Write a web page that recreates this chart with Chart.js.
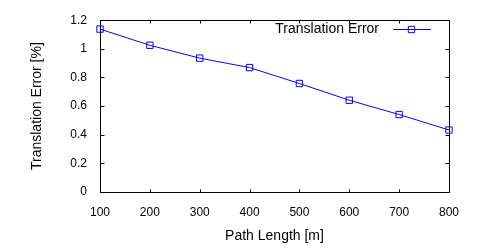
<!DOCTYPE html>
<html><head><meta charset="utf-8">
<script src="https://cdn.jsdelivr.net/npm/chart.js@4/dist/chart.umd.min.js"></script>
<style>html,body{margin:0;padding:0;background:#fff}#w{width:500px;height:250px}</style>
</head><body><div id="w"><canvas id="c" width="500" height="250"></canvas></div>
<script>
const pathLengths = [100, 200, 300, 400, 500, 600, 700, 800];
const translationError = [1.138, 1.025, 0.935, 0.869, 0.758, 0.641, 0.541, 0.433];
const xTicks = [100, 200, 300, 400, 500, 600, 700, 800];
const yTicks = [0, 0.2, 0.4, 0.6, 0.8, 1, 1.2];
const seriesLabel = 'Translation Error';
const xTitle = 'Path Length [m]';
const yTitle = 'Translation Error [%]';

const FONT = "'Liberation Sans', Arial, Helvetica, sans-serif";
const BLUE = '#0000ff';

const framePlugin = {
  id: 'frame',
  afterDatasetsDraw(chart) {
    const {ctx, chartArea: a, scales} = chart;
    const L = Math.round(a.left) + 0.5, R = Math.round(a.right) + 0.5;
    const T = Math.round(a.top) + 0.5, B = Math.round(a.bottom) + 0.5;
    ctx.save();
    ctx.strokeStyle = '#000';
    ctx.lineWidth = 1;
    ctx.beginPath();
    ctx.rect(L, T, R - L, B - T);
    xTicks.forEach(v => {
      const x = Math.round(scales.x.getPixelForValue(v)) + 0.5;
      ctx.moveTo(x, B); ctx.lineTo(x, B - 3);
      ctx.moveTo(x, T); ctx.lineTo(x, T + 3);
    });
    yTicks.forEach(v => {
      const y = Math.round(scales.y.getPixelForValue(v)) + 0.5;
      ctx.moveTo(L, y); ctx.lineTo(L + 4, y);
      ctx.moveTo(R, y); ctx.lineTo(R - 4, y);
    });
    ctx.stroke();
    // legend
    const ly = 29.5;
    ctx.font = '14px ' + FONT;
    ctx.fillStyle = '#000';
    ctx.textAlign = 'right';
    ctx.textBaseline = 'middle';
    ctx.fillText(chart.data.datasets[0].label, 379, ly);
    ctx.strokeStyle = BLUE;
    ctx.beginPath();
    ctx.moveTo(393, ly); ctx.lineTo(431, ly);
    ctx.stroke();
    ctx.fillStyle = 'rgba(0,0,0,0)';
    Chart.helpers.drawPoint(ctx, {pointStyle: 'rect', radius: 4.5, borderWidth: 1}, 411.5, ly);
    ctx.restore();
  }
};

new Chart(document.getElementById('c'), {
  type: 'line',
  data: {
    datasets: [{
      label: seriesLabel,
      data: pathLengths.map((x, i) => ({x, y: translationError[i]})),
      borderColor: BLUE,
      borderWidth: 1,
      pointStyle: 'rect',
      pointRadius: 4.5,
      pointBorderWidth: 1,
      pointBorderColor: BLUE,
      pointBackgroundColor: 'rgba(0,0,0,0)',
      tension: 0,
      fill: false,
      clip: false
    }]
  },
  options: {
    responsive: false,
    devicePixelRatio: 1,
    animation: false,
    layout: {padding: {top: 18, right: 51, left: 0, bottom: 0}},
    plugins: {legend: {display: false}, tooltip: {enabled: false}},
    scales: {
      x: {
        type: 'linear', min: 100, max: 800,
        afterBuildTicks: s => { s.ticks = xTicks.map(v => ({value: v})); },
        afterFit: s => { s.height = 58; },
        grid: {display: false, drawTicks: false},
        border: {display: false},
        ticks: {color: '#000', font: {family: FONT, size: 12}, padding: 13, maxRotation: 0, autoSkip: false},
        title: {display: true, text: xTitle, color: '#000', font: {family: FONT, size: 14}, padding: {top: 0, bottom: 5}}
      },
      y: {
        type: 'linear', min: 0, max: 1.2,
        afterBuildTicks: s => { s.ticks = yTicks.map(v => ({value: v})); },
        afterFit: s => { s.width = 100; },
        grid: {display: false, drawTicks: false},
        border: {display: false},
        ticks: {color: '#000', font: {family: FONT, size: 12}, padding: 13, callback: v => String(+v.toFixed(1))},
        title: {display: true, text: yTitle, color: '#000', font: {family: FONT, size: 14}, padding: {top: 29, bottom: 0}}
      }
    }
  },
  plugins: [framePlugin]
});
</script>
</body></html>
